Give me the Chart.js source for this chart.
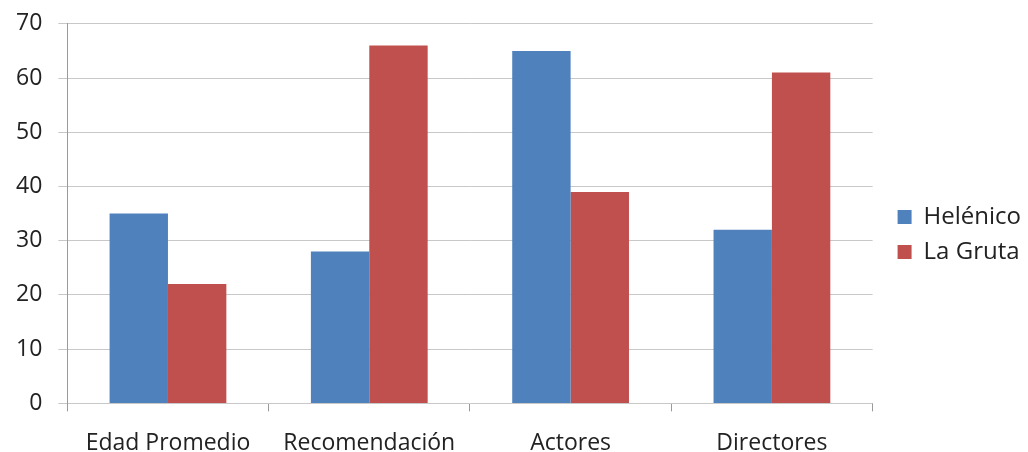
<!DOCTYPE html>
<html>
<head>
<meta charset="utf-8">
<script src="https://cdn.jsdelivr.net/npm/chart.js@4"></script>
<style>
  html, body { margin: 0; padding: 0; background: #fff; overflow: hidden; }
  #wrap { position: absolute; left: 0; top: -6px; width: 1031px; height: 481px; }
</style>
</head>
<body>
<div id="wrap"><canvas id="barChart"></canvas></div>
<script>
  const categories = ["Edad Promedio", "Recomendación", "Actores", "Directores"];
  const helenico = [35, 28, 65, 32];
  const laGruta = [22, 66, 39, 61];
  const yTicks = [0, 10, 20, 30, 40, 50, 60, 70];

  const fontFamily = "'Open Sans', Lato, sans-serif";

  const ctx = document.getElementById("barChart").getContext("2d");
  new Chart(ctx, {
    type: "bar",
    data: {
      labels: categories,
      datasets: [
        { label: "Helénico", data: helenico, backgroundColor: "#4F81BD" },
        { label: "La Gruta", data: laGruta, backgroundColor: "#C0504D" },
      ],
    },
    options: {
      responsive: true,
      maintainAspectRatio: false,
      animation: false,
      layout: { padding: { top: 0, right: 0, left: 0, bottom: 0 } },
      datasets: {
        bar: { categoryPercentage: 0.58, barPercentage: 1 },
      },
      plugins: {
        legend: {
          position: "right",
          labels: {
            boxWidth: 14,
            boxHeight: 14,
            padding: 11,
            color: "#222",
            font: { family: fontFamily, size: 24, lineHeight: 1 },
          },
        },
        tooltip: { enabled: false },
      },
      scales: {
        x: {
          grid: {
            display: true,
            drawOnChartArea: false,
            drawTicks: true,
            tickLength: 8,
            color: "#9a9a9a",
            offset: true,
          },
          border: { display: false },
          ticks: {
            color: "#222",
            padding: 18,
            font: { family: fontFamily, size: 23 },
          },
        },
        y: {
          min: 0,
          max: 70,
          afterBuildTicks: (axis) => {
            axis.ticks = yTicks.map((v) => ({ value: v }));
          },
          grid: {
            color: "#c8c8c8",
            tickLength: 9,
          },
          border: { display: true, color: "#9a9a9a" },
          ticks: {
            color: "#222",
            padding: 16,
            font: { family: fontFamily, size: 23 },
          },
        },
        // hueco vacío entre el área del gráfico y la leyenda
        gap: {
          type: "linear",
          position: "right",
          display: true,
          grid: { display: false },
          border: { display: false },
          ticks: { display: false },
          afterFit: (axis) => {
            axis.width = 14;
          },
        },
      },
    },
  });
</script>
</body>
</html>
